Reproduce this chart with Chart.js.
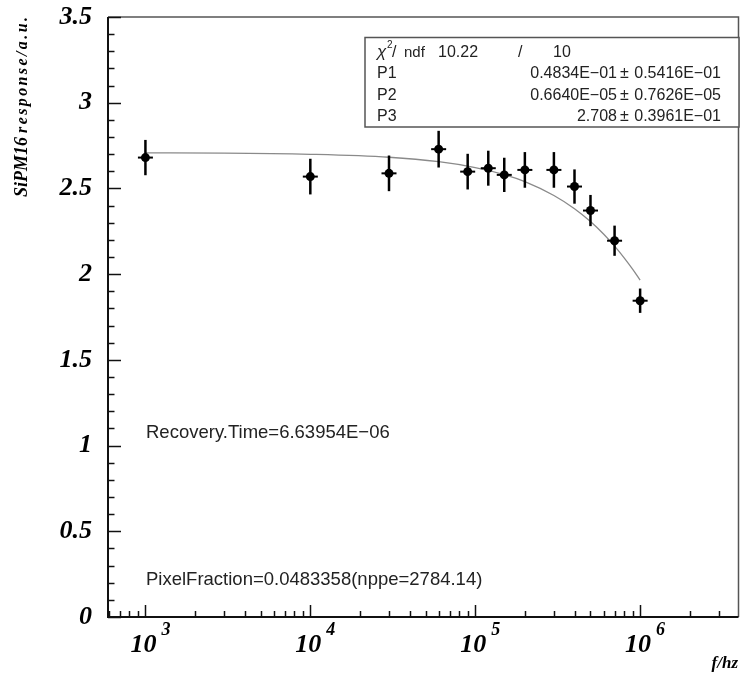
<!DOCTYPE html>
<html>
<head>
<meta charset="utf-8">
<script src="https://cdn.jsdelivr.net/npm/chart.js@4.4.1/dist/chart.umd.min.js"></script>
<style>
  html, body { margin: 0; padding: 0; background: #fff; }
  canvas { display: block; }
</style>
</head>
<body>
<canvas id="respuestaChart" width="743" height="674"></canvas>
<script>
// frecuencia de pulsos (Hz) y respuesta del SiPM16 con su error
const freqHz      = [1e3, 1e4, 3e4, 6e4, 9e4, 1.2e5, 1.5e5, 2e5, 3e5, 4e5, 5e5, 7e5, 1e6];
const response    = [2.680, 2.569, 2.588, 2.729, 2.598, 2.618, 2.579, 2.608, 2.608, 2.511, 2.371, 2.195, 1.845];
const responseErr = [0.103, 0.104, 0.104, 0.107, 0.104, 0.102, 0.100, 0.104, 0.104, 0.100, 0.091, 0.088, 0.071];

// curva del ajuste
const fitHz     = [1e3, 3e3, 1e4, 3e4, 6e4, 1e5, 1.5e5, 2e5, 3e5, 4e5, 5e5, 6e5, 7e5, 8e5, 9e5, 1e6];
const fitValues = [2.707, 2.706, 2.699, 2.682, 2.656, 2.622, 2.581, 2.540, 2.459, 2.382, 2.307, 2.234, 2.163, 2.095, 2.029, 1.965];

// marcas de los ejes
const xMajorTicks = [1e3, 1e4, 1e5, 1e6];
const xExponents  = ['3', '4', '5', '6'];
const xMinorTicks = [600, 700, 800, 900,
  2e3, 3e3, 4e3, 5e3, 6e3, 7e3, 8e3, 9e3,
  2e4, 3e4, 4e4, 5e4, 6e4, 7e4, 8e4, 9e4,
  2e5, 3e5, 4e5, 5e5, 6e5, 7e5, 8e5, 9e5,
  2e6, 3e6];
const yTickLabels = ['0', '0.5', '1', '1.5', '2', '2.5', '3', '3.5'];

// caja de resultados del ajuste
const statsNames  = ['P1', 'P2', 'P3'];
const statsValues = ['0.4834E\u221201', '0.6640E\u221205', '2.708'];
const statsErrors = ['0.5416E\u221201', '0.7626E\u221205', '0.3961E\u221201'];
const chi2Text = ['10.22', '/', '10'];

const recoveryText = 'Recovery.Time=6.63954E\u221206';
const fractionText = 'PixelFraction=0.0483358(nppe=2784.14)';

const serifBI = '"Liberation Serif", "Times New Roman", serif';
const sansTxt = '"Liberation Sans", Arial, sans-serif';

// marco, marcas hacia adentro y etiquetas del eje x
const ejesPlugin = {
  id: 'ejes',
  afterDraw(chart) {
    const { ctx, chartArea: a, scales: { x, y } } = chart;
    ctx.save();

    ctx.strokeStyle = '#555';
    ctx.lineWidth = 1.5;
    ctx.beginPath();
    ctx.moveTo(a.left, a.top);
    ctx.lineTo(a.right, a.top);
    ctx.lineTo(a.right, a.bottom);
    ctx.stroke();

    ctx.strokeStyle = '#111';
    ctx.lineWidth = 2;
    ctx.beginPath();
    ctx.moveTo(a.left, a.top);
    ctx.lineTo(a.left, a.bottom);
    ctx.lineTo(a.right, a.bottom);
    ctx.stroke();

    ctx.lineWidth = 1.5;
    y.ticks.forEach(t => {
      const py = Math.round(y.getPixelForValue(t.value)) + 0.5;
      const major = Math.abs(t.value * 2 - Math.round(t.value * 2)) < 1e-6;
      ctx.beginPath();
      ctx.moveTo(a.left, py);
      ctx.lineTo(a.left + (major ? 13 : 6.5), py);
      ctx.stroke();
    });
    x.ticks.forEach(t => {
      const px = Math.round(x.getPixelForValue(t.value)) + 0.5;
      const major = xMajorTicks.includes(t.value);
      ctx.beginPath();
      ctx.moveTo(px, a.bottom);
      ctx.lineTo(px, a.bottom - (major ? 12 : 6));
      ctx.stroke();
    });

    ctx.fillStyle = '#000';
    xMajorTicks.forEach((v, i) => {
      const px = x.getPixelForValue(v);
      ctx.font = 'italic bold 26px ' + serifBI;
      ctx.textAlign = 'center';
      ctx.textBaseline = 'alphabetic';
      ctx.fillText('10', px - 2, 652);
      ctx.font = 'italic bold 18px ' + serifBI;
      ctx.textAlign = 'left';
      ctx.fillText(xExponents[i], px + 16, 635);
    });
    ctx.font = 'italic bold 17px ' + serifBI;
    ctx.textAlign = 'right';
    ctx.fillText('f/hz', 738, 668);

    // titulo del eje y
    ctx.translate(27, 197);
    ctx.rotate(-Math.PI / 2);
    ctx.textAlign = 'left';
    ctx.font = 'italic bold 18px ' + serifBI;
    ctx.fillText('SiPM16', 0, 0);
    const w = ctx.measureText('SiPM16').width;
    ctx.font = 'italic bold 16px ' + serifBI;
    ctx.letterSpacing = '2.4px';
    ctx.fillText('response/a.u.', w + 4, 0);
    ctx.restore();
  }
};

// barras de error verticales y trazo horizontal de cada punto
const erroresPlugin = {
  id: 'errores',
  afterDatasetsDraw(chart) {
    const { ctx, scales: { x, y } } = chart;
    ctx.save();
    ctx.strokeStyle = '#000';
    freqHz.forEach((f, i) => {
      const px = x.getPixelForValue(f);
      const py = y.getPixelForValue(response[i]);
      ctx.lineWidth = 2.5;
      ctx.beginPath();
      ctx.moveTo(px, y.getPixelForValue(response[i] - responseErr[i]));
      ctx.lineTo(px, y.getPixelForValue(response[i] + responseErr[i]));
      ctx.stroke();
      ctx.lineWidth = 2;
      ctx.beginPath();
      ctx.moveTo(px - 7.5, py);
      ctx.lineTo(px + 7.5, py);
      ctx.stroke();
    });
    ctx.restore();
  }
};

// textos del ajuste
const textosPlugin = {
  id: 'textos',
  afterDraw(chart) {
    const { ctx } = chart;
    ctx.save();
    ctx.fillStyle = '#fff';
    ctx.fillRect(365, 37, 374, 90);
    ctx.strokeStyle = '#555';
    ctx.lineWidth = 1.5;
    ctx.strokeRect(365, 37.5, 374, 89.5);

    ctx.fillStyle = '#222';
    ctx.textBaseline = 'alphabetic';
    ctx.textAlign = 'left';
    ctx.font = 'italic 17px ' + sansTxt;
    ctx.fillText('\u03c7', 377, 57);
    ctx.font = '10px ' + sansTxt;
    ctx.fillText('2', 387, 48);
    ctx.font = '16px ' + sansTxt;
    ctx.fillText('/', 392, 57);
    ctx.font = '15px ' + sansTxt;
    ctx.fillText('ndf', 404, 57);
    ctx.font = '16px ' + sansTxt;
    ctx.fillText(chi2Text[0], 438, 57);
    ctx.fillText(chi2Text[1], 518, 57);
    ctx.fillText(chi2Text[2], 553, 57);

    statsNames.forEach((n, i) => {
      const by = 78 + i * 21.5;
      ctx.textAlign = 'left';
      ctx.fillText(n, 377, by);
      ctx.textAlign = 'right';
      ctx.fillText(statsValues[i], 617, by);
      ctx.textAlign = 'left';
      ctx.fillText('\u00b1', 620, by);
      ctx.textAlign = 'right';
      ctx.fillText(statsErrors[i], 721, by);
    });

    ctx.textAlign = 'left';
    ctx.font = '18.5px ' + sansTxt;
    ctx.fillText(recoveryText, 146, 438);
    ctx.fillText(fractionText, 146, 585);
    ctx.restore();
  }
};

new Chart(document.getElementById('respuestaChart'), {
  type: 'scatter',
  data: {
    datasets: [
      {
        label: 'ajuste',
        data: fitHz.map((f, i) => ({ x: f, y: fitValues[i] })),
        showLine: true,
        borderColor: '#8a8a8a',
        borderWidth: 1.3,
        pointRadius: 0,
        cubicInterpolationMode: 'monotone',
        order: 2
      },
      {
        label: 'SiPM16',
        data: freqHz.map((f, i) => ({ x: f, y: response[i] })),
        pointRadius: 4.5,
        pointBackgroundColor: '#000',
        pointBorderColor: '#000',
        pointBorderWidth: 0,
        order: 1
      }
    ]
  },
  options: {
    responsive: false,
    animation: false,
    devicePixelRatio: 1,
    layout: { padding: { left: 0, top: 17, right: 4, bottom: 0 } },
    plugins: { legend: { display: false }, tooltip: { enabled: false } },
    scales: {
      x: {
        type: 'logarithmic',
        min: 593,
        max: 3.95e6,
        border: { display: false },
        grid: { display: false },
        ticks: { display: false },
        afterBuildTicks: s => {
          s.ticks = xMajorTicks.concat(xMinorTicks).map(v => ({ value: v }));
        },
        afterFit: s => {
          s.height = 57;
          s.paddingLeft = 0;
          s.paddingRight = 0;
        }
      },
      y: {
        min: 0,
        max: 3.5,
        border: { display: false },
        grid: { display: false },
        ticks: {
          stepSize: 0.1,
          autoSkip: false,
          padding: 8,
          color: '#000',
          font: { family: serifBI, size: 26, style: 'italic', weight: 'bold' },
          callback: v => {
            const k = v * 2;
            return Math.abs(k - Math.round(k)) < 1e-6 ? yTickLabels[Math.round(k)] : '';
          }
        },
        afterFit: s => {
          s.width = 108;
          s.paddingTop = 0;
          s.paddingBottom = 0;
        }
      }
    }
  },
  plugins: [ejesPlugin, erroresPlugin, textosPlugin]
});
</script>
</body>
</html>
